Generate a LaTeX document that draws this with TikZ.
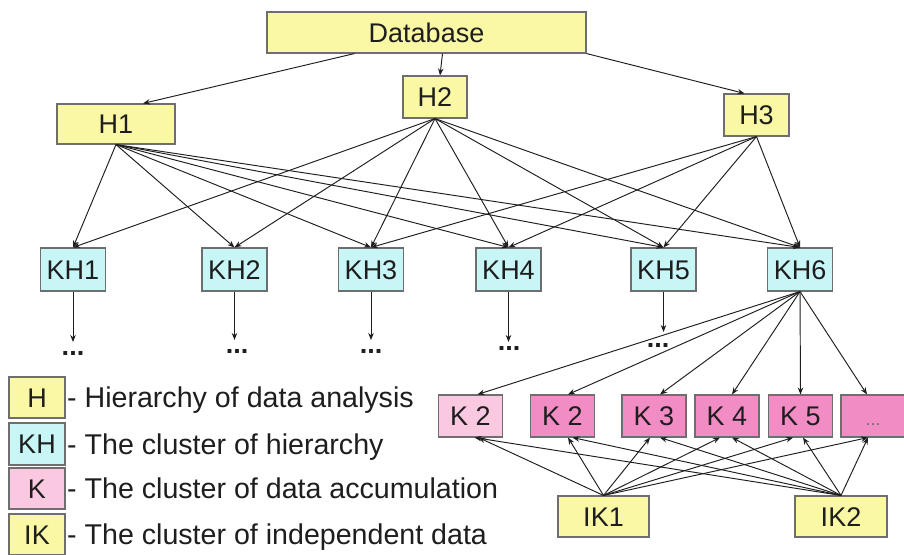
\documentclass[tikz,border=0pt]{standalone}
\usepackage{fontspec}
\setmainfont{Liberation Sans}
\usetikzlibrary{arrows.meta}
\definecolor{yel}{RGB}{250,248,165}
\definecolor{cya}{RGB}{200,246,246}
\definecolor{pnk}{RGB}{242,140,196}
\definecolor{lpnk}{RGB}{250,200,225}
\definecolor{bord}{RGB}{110,110,110}
\definecolor{ink}{RGB}{30,30,30}
\begin{document}
\begin{tikzpicture}[x=1pt,y=-1pt,
  box/.style={draw=bord, line width=1.1pt, inner sep=0pt, text=ink,
    font=\fontsize{27}{30}\selectfont, text height=19.4pt, text depth=0pt},
  ybox/.style={box, fill=yel},
  cbox/.style={box, fill=cya, minimum width=65pt, minimum height=43pt},
  kbox/.style={box, fill=pnk, minimum width=64pt, minimum height=42pt},
  lkbox/.style={box, fill=lpnk, minimum width=64pt, minimum height=42pt},
  legbox/.style={box, minimum width=56pt, minimum height=41pt},
  legtext/.style={anchor=west, inner sep=0pt, text=ink,
    font=\fontsize{28.6}{31}\selectfont, text height=20.5pt, text depth=0pt},
  dotsn/.style={inner sep=0pt, text=ink, font=\fontsize{27}{30}\selectfont\bfseries},
  arr/.style={-{Stealth[length=7pt,width=5.5pt]}, line width=0.95pt, draw=ink},
]
\useasboundingbox (0,0) rectangle (904,554);
\fill[white] (0,0) rectangle (904,554);

% top levels
\node[ybox, minimum width=319pt, minimum height=41pt] (DB) at (426.5,32.5) {Database};
\node[ybox, minimum width=118pt, minimum height=40pt] (H1) at (116,124) {H1};
\node[ybox, minimum width=64pt, minimum height=42pt] (H2) at (435,97) {H2};
\node[ybox, minimum width=65pt, minimum height=42pt] (H3) at (756.5,115) {H3};

% cluster of hierarchy
\node[cbox] (KH1) at (73,269.5) {KH1};
\node[cbox] (KH2) at (234.5,269.5) {KH2};
\node[cbox] (KH3) at (371,269.5) {KH3};
\node[cbox] (KH4) at (508.5,269.5) {KH4};
\node[cbox] (KH5) at (663.5,269.5) {KH5};
\node[cbox] (KH6) at (800,269.5) {KH6};

% accumulation clusters
\node[lkbox] (K0) at (470.5,416) {K 2};
\node[kbox] (K1) at (562.5,416) {K 2};
\node[kbox] (K2) at (654,416) {K 3};
\node[kbox] (K3) at (727,416) {K 4};
\node[kbox] (K4) at (800.5,416) {K 5};
\node[kbox, font=\fontsize{18}{20}\selectfont, text=bord] (K5) at (873,416) {...};

% independent data
\node[ybox, minimum width=91pt, minimum height=41pt] (IK1) at (603.5,516.5) {IK1};
\node[ybox, minimum width=92pt, minimum height=41pt] (IK2) at (841,516.5) {IK2};

% dots under KH
\node[dotsn] (d1) at (73,353) {...};
\node[dotsn] (d2) at (237,351) {...};
\node[dotsn] (d3) at (371,351) {...};
\node[dotsn] (d4) at (509,348) {...};
\node[dotsn] (d5) at (658,345) {...};
\coordinate (e1) at (73,342);
\coordinate (e2) at (234.5,340);
\coordinate (e3) at (371,340);
\coordinate (e4) at (508.5,342);
\coordinate (e5) at (663.5,332);

% legend
\node[legbox, fill=yel] (LH) at (37,397.5) {H};
\node[legbox, fill=cya, minimum height=42pt] (LKH) at (37,444) {KH};
\node[legbox, fill=lpnk] (LK) at (37,488.5) {K};
\node[legbox, fill=yel] (LIK) at (37,534.5) {IK};
\node[legtext] (tH) at (67,397.5) {- Hierarchy of data analysis};
\node[legtext] (tKH) at (67,444) {- The cluster of hierarchy};
\node[legtext] (tK) at (67,488.5) {- The cluster of data accumulation};
\node[legtext] (tIK) at (67,534.5) {- The cluster of independent data};

% connectors
\draw[arr] ([xshift=-72pt]DB.south) -- ([xshift=27pt]H1.north);
\draw[arr] ([xshift=16pt]DB.south) -- ([xshift=5pt]H2.north);
\draw[arr] (DB.south east) -- ([xshift=-12pt]H3.north);

\foreach \i in {1,...,6} {
  \draw[arr] (H1.south) -- (KH\i.north);
  \draw[arr] (H2.south) -- (KH\i.north);
}
\foreach \i in {3,...,6} {
  \draw[arr] (H3.south) -- (KH\i.north);
}
\foreach \i in {1,...,5} {
  \draw[arr] (KH\i.south) -- (e\i);
}

\draw[arr] (KH6.south) -- ([xshift=7pt]K0.north);
\draw[arr] (KH6.south) -- ([xshift=5.5pt]K1.north);
\draw[arr] (KH6.south) -- ([xshift=6pt]K2.north);
\draw[arr] (KH6.south) -- ([xshift=5pt]K3.north);
\draw[arr] (KH6.south) -- (K4.north);
\draw[arr] (KH6.south) -- ([xshift=-6pt]K5.north);

\draw[arr] (IK1.north) -- ([xshift=8pt]K0.south);
\draw[arr] (IK1.north) -- ([xshift=5.5pt]K1.south);
\draw[arr] (IK1.north) -- ([xshift=-4pt]K2.south);
\draw[arr] (IK1.north) -- ([xshift=-7pt]K3.south);
\draw[arr] (IK1.north) -- ([xshift=-7.5pt]K4.south);
\draw[arr] (IK1.north) -- ([xshift=-5pt]K5.south);

\draw[arr] (IK2.north) -- ([xshift=4pt]K0.south);
\draw[arr] (IK2.north) -- ([xshift=10pt]K1.south);
\draw[arr] (IK2.north) -- ([xshift=6pt]K2.south);
\draw[arr] (IK2.north) -- ([xshift=5pt]K3.south);
\draw[arr] (IK2.north) -- ([xshift=2.5pt]K4.south);
\draw[arr] (IK2.north) -- ([xshift=-5pt]K5.south);
\end{tikzpicture}
\end{document}
